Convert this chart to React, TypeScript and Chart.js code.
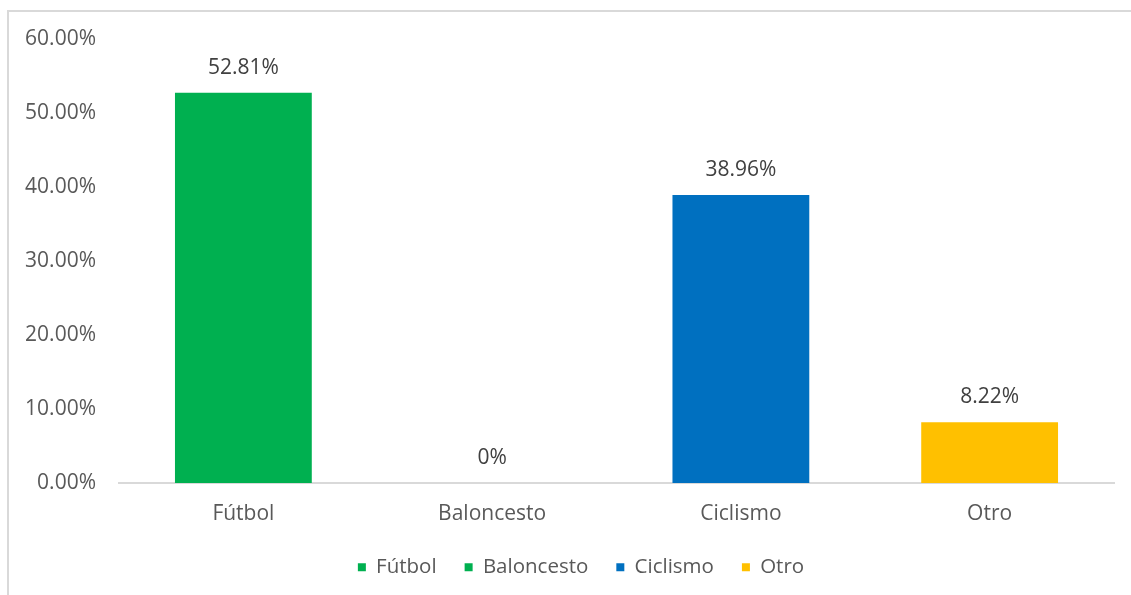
import React, { useEffect, useRef } from "react";
import { Chart, registerables } from "chart.js";

Chart.register(...registerables);

const categories = ["Fútbol", "Baloncesto", "Ciclismo", "Otro"];
const values = [52.81, 0, 38.96, 8.22];
const valueLabels = ["52.81%", "0%", "38.96%", "8.22%"];
const barColors = ["#00B050", "#00B050", "#0070C0", "#FFC000"];
const yTicks = [0, 10, 20, 30, 40, 50, 60];

const FONT = "'Open Sans', 'Noto Sans', sans-serif";

const dataLabelPlugin = {
  id: "dataLabels",
  afterDatasetsDraw(chart: any) {
    const ctx = chart.ctx;
    const meta = chart.getDatasetMeta(0);
    ctx.save();
    ctx.font = `21px ${FONT}`;
    ctx.fillStyle = "#404040";
    ctx.textAlign = "center";
    ctx.textBaseline = "alphabetic";
    meta.data.forEach((bar: any, i: number) => {
      ctx.fillText(valueLabels[i], bar.x, bar.y - 19);
    });
    ctx.restore();
  },
};

// shift the legend's centring box so that it sits where the reference has it
const legendShiftPlugin = {
  id: "legendShift",
  afterLayout(chart: any) {
    if (chart.legend) {
      chart.legend.left = 39;
    }
  },
};

export default function App() {
  const ref = useRef<HTMLCanvasElement | null>(null);

  useEffect(() => {
    document.body.style.overflow = "hidden";
    const canvas = ref.current;
    if (!canvas) return;
    const chart = new Chart(canvas, {
      type: "bar",
      data: {
        labels: categories,
        datasets: [
          {
            label: "Serie",
            data: values,
            backgroundColor: barColors,
            borderWidth: 0,
            categoryPercentage: 1,
            barPercentage: 0.55,
          },
        ],
      },
      options: {
        responsive: false,
        animation: false,
        layout: { padding: { left: 0, right: 17, top: 27.5, bottom: 7.5 } },
        plugins: {
          tooltip: { enabled: false },
          legend: {
            position: "bottom",
            labels: {
              font: { family: FONT, size: 20.5 },
              color: "#595959",
              boxWidth: 8,
              boxHeight: 8,
              padding: 28,
              generateLabels: () =>
                categories.map((c, i) => ({
                  text: c,
                  fillStyle: barColors[i],
                  strokeStyle: barColors[i],
                  lineWidth: 0,
                  hidden: false,
                  index: i,
                  fontColor: "#595959",
                })),
            },
          },
        },
        scales: {
          x: {
            grid: { display: false, drawTicks: false },
            border: { display: true, color: "#D9D9D9", width: 2 },
            ticks: {
              font: { family: FONT, size: 21 },
              color: "#595959",
              padding: 18,
            },
            afterFit: (s: any) => {
              s.height = 46;
              s.paddingLeft = 0;
              s.paddingRight = 0;
            },
          },
          y: {
            min: 0,
            max: 60,
            grid: { display: false, drawTicks: false },
            border: { display: false },
            afterBuildTicks: (s: any) => {
              s.ticks = yTicks.map((v) => ({ value: v }));
            },
            ticks: {
              font: { family: FONT, size: 21 },
              color: "#595959",
              padding: 23,
              callback: (v: any) => Number(v).toFixed(2) + "%",
            },
            afterFit: (s: any) => {
              s.width = 110;
              s.paddingTop = 0;
              s.paddingBottom = 0;
            },
          },
        },
      },
      plugins: [dataLabelPlugin, legendShiftPlugin],
    });
    return () => chart.destroy();
  }, []);

  return (
    <div
      style={{
        position: "absolute",
        left: 7,
        top: 10,
        width: 1124,
        height: 585,
        boxSizing: "border-box",
        borderTop: "2px solid #D9D9D9",
        borderLeft: "2px solid #D9D9D9",
        background: "#fff",
      }}
    >
      <canvas ref={ref} width={1122} height={583} style={{ display: "block" }} />
    </div>
  );
}
